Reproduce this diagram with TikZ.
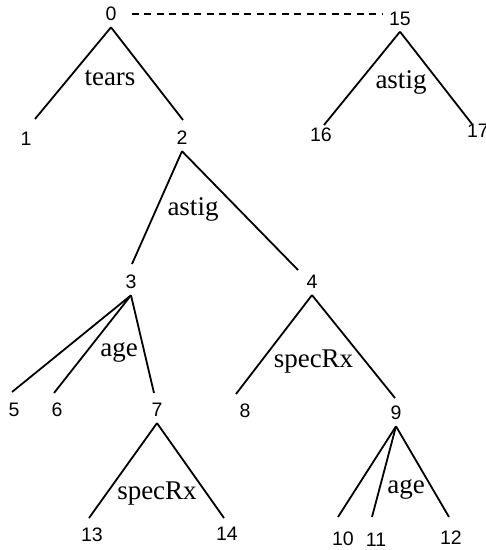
\documentclass[tikz,border=0pt]{standalone}
\usepackage{fontspec}
\setmainfont{Liberation Serif}
\newfontfamily\numfont{Liberation Sans}
\usepackage{tikz}
\usetikzlibrary{positioning,calc}
\tikzset{
  tree/num/.style={font=\numfont\fontsize{19.5}{19.5}\selectfont, inner sep=6.2pt},
  tree/attr/.style={font=\fontsize{27}{27}\selectfont, inner sep=0pt, anchor=base},
  tree/edge/.style={line width=1.8pt},
  tree/link/.style={line width=1.5pt, dash pattern=on 7pt off 5.5pt, shorten <=9pt}
}

\begin{document}
\begin{tikzpicture}[x=1pt, y=-1pt]
  \useasboundingbox (0,0) rectangle (486,550);
  \foreach \id/\x/\y in {0/111/14, 1/26/139, 2/182/138, 3/131/282, 4/312/282,
      5/14/410, 6/57/410, 7/157/410, 8/245/411, 9/396/413, 10/343/539,
      11/376/540, 12/451/538, 13/92/535, 14/227/534, 15/400/18.5,
      16/321/135, 17/478/131}
    \node[tree/num] (n\id) at (\x,\y) {\id};
  \foreach \id/\x/\y in {1/35/119, 2/183/120, 3/132/264, 4/298/270, 5/12/392,
      6/54/393, 7/154/393, 8/236/394, 9/395/398, 10/338/517, 11/372/517,
      12/449/517, 13/89/518, 14/224/518, 16/324/125, 17/472/124}
    \coordinate (t\id) at (\x,\y);
  \foreach \p/\c in {0/1, 0/2, 2/3, 2/4, 3/5, 3/6, 3/7, 4/8, 4/9,
      7/13, 7/14, 9/10, 9/11, 9/12, 15/16, 15/17}
    \draw[tree/edge] (n\p.south) -- (t\c);
  \draw[tree/link] (n0.east) -- (n0.east -| n15.west);
  \node[tree/attr] (split0) at (110,85) {tears};
  \node[tree/attr] (split2) at (193,215) {astig};
  \node[tree/attr] (split3) at (119,356) {age};
  \node[tree/attr] (split4) at (313.5,367) {specRx};
  \node[tree/attr] (split7) at (157,499) {specRx};
  \node[tree/attr] (split9) at (406,493) {age};
  \node[tree/attr] (split15) at (401,88) {astig};
\end{tikzpicture}
\end{document}
